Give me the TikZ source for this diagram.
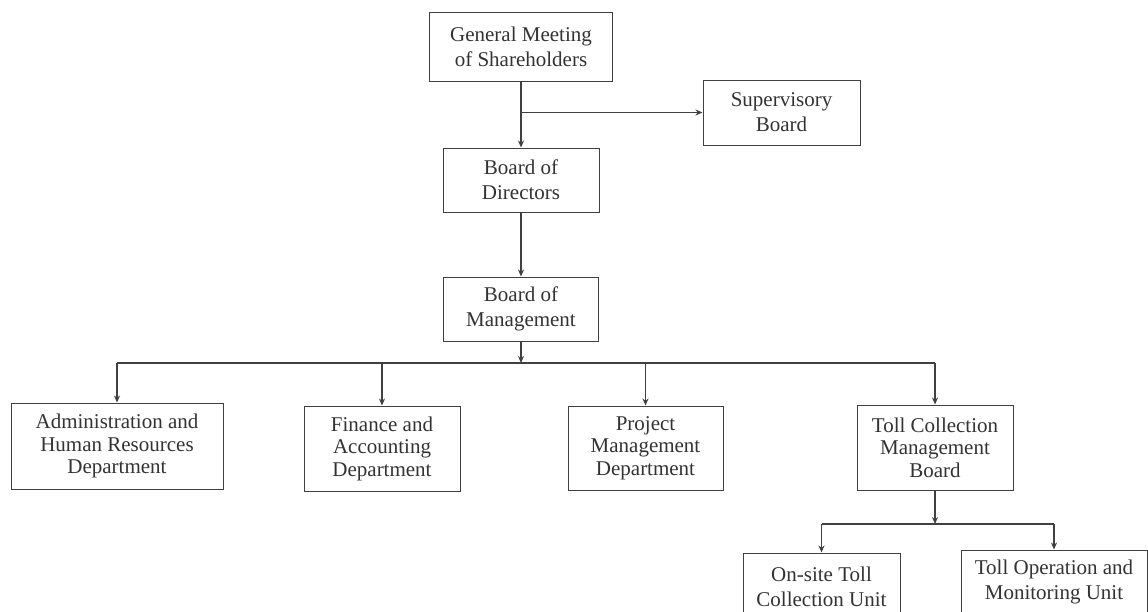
\documentclass[tikz,border=0pt]{standalone}
\usepackage{fontspec}
\setmainfont{Liberation Serif}
\usetikzlibrary{arrows.meta}
\tikzset{
  unit/.style={draw=black!75, line width=1pt, text=black!80, align=center,
    inner sep=0pt, minimum height=64pt, font=\fontsize{21}{25}\selectfont},
  dept/.style={unit, minimum width=156pt, minimum height=85pt,
    font=\fontsize{21}{22.5}\selectfont},
  link/.style={draw=black!75, line width=1.2pt},
  tip/.style={link, -{Stealth[length=7pt,width=6pt]}}
}
\begin{document}
\begin{tikzpicture}[x=1pt,y=-1pt]
  \useasboundingbox (0,0) rectangle (1148,611);
  \clip (0,0) rectangle (1148,611);
  \fill[white] (0,0) rectangle (1148,611);
  \node[unit, minimum width=183pt, minimum height=69pt] (gms) at (521,46.5) {General Meeting\\of Shareholders};
  \node[unit, minimum width=157pt, minimum height=65pt] (sup) at (781.5,112.5) {Supervisory\\Board};
  \node[unit, minimum width=156pt] (bod) at (521,180) {Board of\\Directors};
  \node[unit, minimum width=155pt] (bom) at (521,309) {Board of\\Management};
  \node[dept, minimum width=212pt, minimum height=86pt] (adm) at (117,446) {Administration and\\Human Resources\\Department};
  \node[dept] (fin) at (382,448.5) {Finance and\\Accounting\\Department};
  \node[dept, minimum width=155pt, minimum height=84pt] (pmd) at (645.5,448) {Project\\Management\\Department};
  \node[dept] (tcb) at (935,447.5) {Toll Collection\\Management\\Board};
  \node[unit, minimum width=157pt, minimum height=68pt] (osu) at (821.5,587) {On-site Toll\\Collection Unit};
  \node[unit, minimum width=186pt, minimum height=63pt] (tom) at (1054,581.5) {Toll Operation and\\Monitoring Unit};
  \coordinate (split) at (gms.south |- sup.west);
  \coordinate (bus) at (bom.south |- 0,363);
  \coordinate (sub) at (tcb.south |- 0,524);
  \begin{scope}[tip]
    \draw (gms.south) to (bod.north);
    \draw (split) to (sup.west);
    \draw (bod.south) to (bom.north);
    \draw (bom.south) to (bus);
    \draw (tcb.south) to (sub);
    \foreach \n in {adm,fin,pmd,tcb}
      \draw (\n.north |- bus) to (\n.north);
    \foreach \n in {osu,tom}
      \draw (\n.north |- sub) to (\n.north);
  \end{scope}
  \draw[link] (adm.north |- bus) -- (tcb.north |- bus);
  \draw[link] (osu.north |- sub) -- (tom.north |- sub);
\end{tikzpicture}
\end{document}
